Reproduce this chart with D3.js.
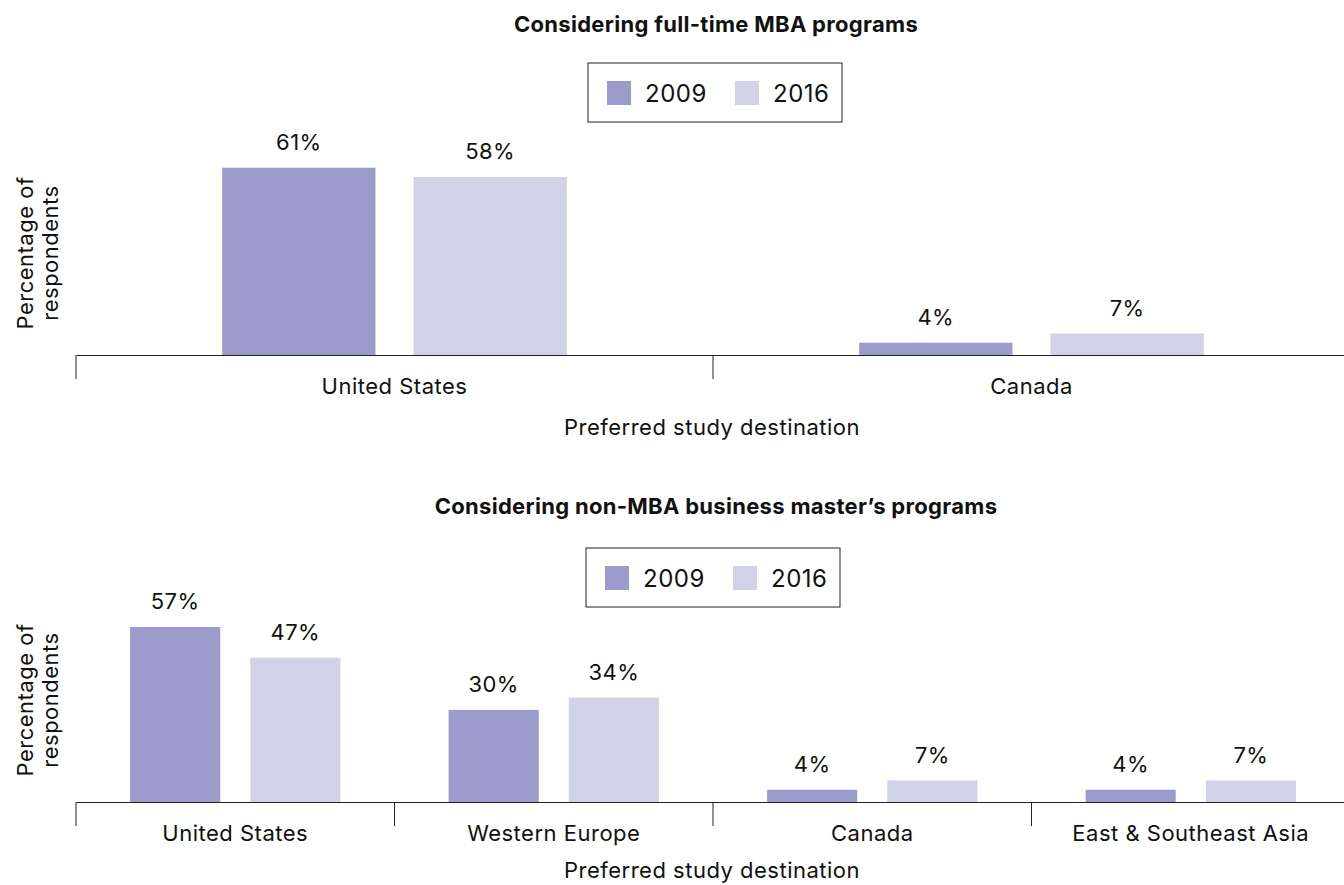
<!DOCTYPE html>
<html>
<head>
<meta charset="utf-8">
<script src="https://cdn.jsdelivr.net/npm/d3@7"></script>
<style>
  body { margin: 0; background: #fff; }
  text { font-family: Inter, "DejaVu Sans", sans-serif; fill: #111; }
</style>
</head>
<body>
<div id="chart-area"></div>
<script>
// dados
const years = ["2009", "2016"]
const colors = ["#9c9ccc", "#d1d1e8"]

const mbaTitle = "Considering full-time MBA programs"
const mbaCats = ["United States", "Canada"]
const mba2009 = [61, 4]
const mba2016 = [58, 7]

const nonTitle = "Considering non-MBA business master\u2019s programs"
const nonCats = ["United States", "Western Europe", "Canada", "East & Southeast Asia"]
const non2009 = [57, 30, 4, 4]
const non2016 = [47, 34, 7, 7]

const W = 1344, H = 885
const LEFT = 76, RIGHT = 1350

const svg = d3.select("#chart-area").append("svg")
  .attr("width", W)
  .attr("height", H)

// desenha um painel
function panel(opt) {
  const { title, cats, v1, v2, top, base, inPad, outPad, legendX, legendY, xTitleY } = opt
  const g = svg.append("g")

  const x = d3.scaleBand().domain(cats).range([LEFT, RIGHT])
  const x1 = d3.scaleBand().domain(years).range([0, x.bandwidth()])
    .paddingInner(inPad).paddingOuter(outPad)
  const y = d3.scaleLinear().domain([0, 100]).range([base, base - 307])

  // titulo
  g.append("text")
    .attr("x", 716).attr("y", top)
    .attr("text-anchor", "middle")
    .attr("font-size", "22px").attr("font-weight", 700)
    .attr("letter-spacing", "0.3px")
    .text(title)

  // legenda
  const lg = g.append("g").attr("transform", `translate(${legendX}, ${legendY})`)
  lg.append("rect").attr("width", 254).attr("height", 59)
    .attr("fill", "#fff").attr("stroke", "#222").attr("stroke-width", 1)
  years.forEach((yr, i) => {
    lg.append("rect").attr("x", 19 + i * 128).attr("y", 18)
      .attr("width", 24).attr("height", 24).attr("fill", colors[i])
    lg.append("text").attr("x", 57 + i * 128).attr("y", 39)
      .attr("font-size", "24px").attr("letter-spacing", "0.5px").text(yr)
  })

  const data = cats.map((c, i) => ({ cat: c, vals: [v1[i], v2[i]] }))

  // barras
  const grp = g.selectAll(".grp").data(data).join("g")
    .attr("transform", d => `translate(${x(d.cat)},0)`)
  grp.selectAll("rect").data(d => d.vals.map((v, i) => ({ yr: years[i], v, i })))
    .join("rect")
    .attr("x", d => x1(d.yr))
    .attr("y", d => y(d.v))
    .attr("width", x1.bandwidth())
    .attr("height", d => y(0) - y(d.v))
    .attr("fill", d => colors[d.i])
  grp.selectAll("text.val").data(d => d.vals.map((v, i) => ({ yr: years[i], v, i })))
    .join("text")
    .attr("class", "val")
    .attr("x", d => x1(d.yr) + x1.bandwidth() / 2)
    .attr("y", d => y(d.v) - 18)
    .attr("text-anchor", "middle")
    .attr("font-size", "22px").attr("letter-spacing", "0.4px")
    .text(d => d.v + "%")

  // eixo x
  const axis = g.append("g")
    .attr("transform", `translate(0, ${base})`)
    .call(d3.axisBottom(x).tickSize(0).tickPadding(23))
  axis.select(".domain").attr("stroke", "#222")
  axis.selectAll("text").attr("font-size", "22px").attr("fill", "#111")
    .attr("letter-spacing", "0.5px")
    .attr("font-family", "Inter, sans-serif")

  // separadores
  g.selectAll(".sep").data(cats.concat(["_end"])).join("line")
    .attr("x1", d => d === "_end" ? RIGHT : x(d))
    .attr("x2", d => d === "_end" ? RIGHT : x(d))
    .attr("y1", base).attr("y2", base + 24)
    .attr("stroke", "#222")

  g.append("text")
    .attr("x", (LEFT + RIGHT) / 2 - 1).attr("y", xTitleY)
    .attr("text-anchor", "middle").attr("font-size", "22px")
    .attr("letter-spacing", "0.5px")
    .text("Preferred study destination")

  const yl = g.append("text")
    .attr("transform", `translate(33, ${base - 102}) rotate(-90)`)
    .attr("text-anchor", "middle").attr("font-size", "22px")
    .attr("letter-spacing", "0.5px")
  yl.append("tspan").attr("x", 0).attr("y", 0).text("Percentage of")
  yl.append("tspan").attr("x", 0).attr("y", 25).text("respondents")
}

panel({ title: mbaTitle, cats: mbaCats, v1: mba2009, v2: mba2016,
  top: 32, base: 355, inPad: 0.199, outPad: 0.764, legendX: 588, legendY: 63, xTitleY: 435 })
panel({ title: nonTitle, cats: nonCats, v1: non2009, v2: non2016,
  top: 514, base: 802, inPad: 0.25, outPad: 0.45, legendX: 586, legendY: 548, xTitleY: 878 })
</script>
</body>
</html>
